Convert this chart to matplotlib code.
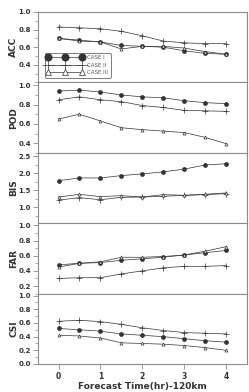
import numpy as np
import matplotlib
matplotlib.use("Agg")
import matplotlib.pyplot as plt
from matplotlib.ticker import MultipleLocator

# ---- data ----
hours = [0, 0.5, 1, 1.5, 2, 2.5, 3, 3.5, 4]
case_labels = ["CASE I", "CASE II", "CASE III"]

acc_1 = [0.70, 0.68, 0.66, 0.62, 0.61, 0.60, 0.56, 0.53, 0.52]
acc_2 = [0.83, 0.82, 0.81, 0.78, 0.73, 0.67, 0.65, 0.64, 0.64]
acc_3 = [0.70, 0.67, 0.66, 0.58, 0.61, 0.61, 0.59, 0.55, 0.52]

pod_1 = [0.94, 0.95, 0.93, 0.90, 0.88, 0.87, 0.84, 0.82, 0.81]
pod_2 = [0.85, 0.88, 0.85, 0.83, 0.79, 0.77, 0.74, 0.735, 0.73]
pod_3 = [0.65, 0.70, 0.63, 0.56, 0.54, 0.525, 0.51, 0.46, 0.395]

bis_1 = [1.78, 1.86, 1.86, 1.93, 1.98, 2.04, 2.12, 2.24, 2.28]
bis_2 = [1.21, 1.28, 1.22, 1.29, 1.30, 1.32, 1.35, 1.37, 1.40]
bis_3 = [1.30, 1.38, 1.31, 1.34, 1.30, 1.37, 1.35, 1.38, 1.42]

far_1 = [0.48, 0.50, 0.51, 0.54, 0.56, 0.58, 0.61, 0.64, 0.67]
far_2 = [0.30, 0.31, 0.31, 0.36, 0.40, 0.44, 0.46, 0.46, 0.47]
far_3 = [0.45, 0.50, 0.52, 0.58, 0.58, 0.59, 0.61, 0.66, 0.72]

csi_1 = [0.52, 0.50, 0.48, 0.44, 0.42, 0.40, 0.37, 0.34, 0.32]
csi_2 = [0.625, 0.64, 0.62, 0.58, 0.53, 0.49, 0.46, 0.45, 0.44]
csi_3 = [0.42, 0.41, 0.38, 0.31, 0.30, 0.29, 0.27, 0.24, 0.20]

# ---- panel setup ----
panels = [
    ("ACC", (acc_1, acc_2, acc_3), (0.2, 1.0), [0.4, 0.6, 0.8, 1.0], 0.1),
    ("POD", (pod_1, pod_2, pod_3), (0.3, 1.03), [0.4, 0.6, 0.8, 1.0], 0.1),
    ("BIS", (bis_1, bis_2, bis_3), (0.53, 2.6), [1.0, 1.5, 2.0, 2.5], 0.25),
    ("FAR", (far_1, far_2, far_3), (0.1, 1.03), [0.2, 0.4, 0.6, 0.8, 1.0], 0.1),
    ("CSI", (csi_1, csi_2, csi_3), (0.0, 1.03), [0.0, 0.2, 0.4, 0.6, 0.8, 1.0], 0.1),
]

LINE_COLOR = "#333333"
SPINE_COLOR = "#8a8a8a"
TEXT_COLOR = "#333333"
styles = [
    dict(marker="o", markersize=2.4, markerfacecolor=LINE_COLOR, markeredgecolor=LINE_COLOR),
    dict(marker="+", markersize=4.0, markeredgewidth=0.5, markeredgecolor=LINE_COLOR),
    dict(marker="^", markersize=2.2, markerfacecolor="white", markeredgecolor=LINE_COLOR,
         markeredgewidth=0.5),
]

W, H = 249, 392
fig = plt.figure(figsize=(W / 100, H / 100), dpi=100, facecolor="white")

left_px, right_px = 38, 247
top_px, bottom_px = 12, 364
panel_h = (bottom_px - top_px) / len(panels)

axes = []
for i, (name, series, ylim, yticks, minor) in enumerate(panels):
    y0 = top_px + i * panel_h
    ax = fig.add_axes([left_px / W, 1 - (y0 + panel_h) / H,
                       (right_px - left_px) / W, panel_h / H])
    for vals, lab, st in zip(series, case_labels, styles):
        ax.plot(hours, vals, color=LINE_COLOR, linewidth=0.5, label=lab, **st)
    ax.set_xlim(-0.49, 4.5)
    ax.set_ylim(*ylim)
    ax.set_yticks(yticks)
    ax.yaxis.set_minor_locator(MultipleLocator(minor))
    ax.set_yticklabels([f"{t:.1f}" for t in yticks])
    ax.tick_params(axis="y", which="major", length=3.5, width=0.6, color=SPINE_COLOR,
                   labelsize=5, pad=1.5, labelcolor=TEXT_COLOR)
    ax.tick_params(axis="y", which="minor", length=2, width=0.5, color=SPINE_COLOR)
    for lbl in ax.get_yticklabels():
        lbl.set_fontweight("bold")
    ax.set_ylabel(name, fontsize=6.5, fontweight="bold", color=TEXT_COLOR, labelpad=3)
    for sp in ax.spines.values():
        sp.set_color(SPINE_COLOR)
        sp.set_linewidth(0.8)
    if i < len(panels) - 1:
        ax.tick_params(axis="x", which="both", bottom=False, labelbottom=False)
    else:
        ax.set_xticks([0, 1, 2, 3, 4])
        ax.tick_params(axis="x", length=3.5, width=0.6, color=SPINE_COLOR,
                       labelsize=5.5, pad=2, labelcolor=TEXT_COLOR)
        for lbl in ax.get_xticklabels():
            lbl.set_fontweight("bold")
        ax.set_xlabel("Forecast Time(hr)-120km", fontsize=6.5, fontweight="bold",
                      color=TEXT_COLOR, labelpad=1)
    axes.append(ax)

# align y labels
for ax in axes:
    ax.yaxis.set_label_coords(-0.095, 0.5)

leg = axes[0].legend(loc="lower left", bbox_to_anchor=(0.018, 0.03), fontsize=4.0,
                     numpoints=3, handlelength=6.6, markerscale=2.0, labelspacing=0.45,
                     borderpad=0.4, handletextpad=0.7, fancybox=True, framealpha=1)
leg.get_frame().set_edgecolor("#666666")
leg.get_frame().set_linewidth(0.6)
for t in leg.get_texts():
    t.set_color("#555555")

fig.savefig("out.png", dpi=100, facecolor="white")
